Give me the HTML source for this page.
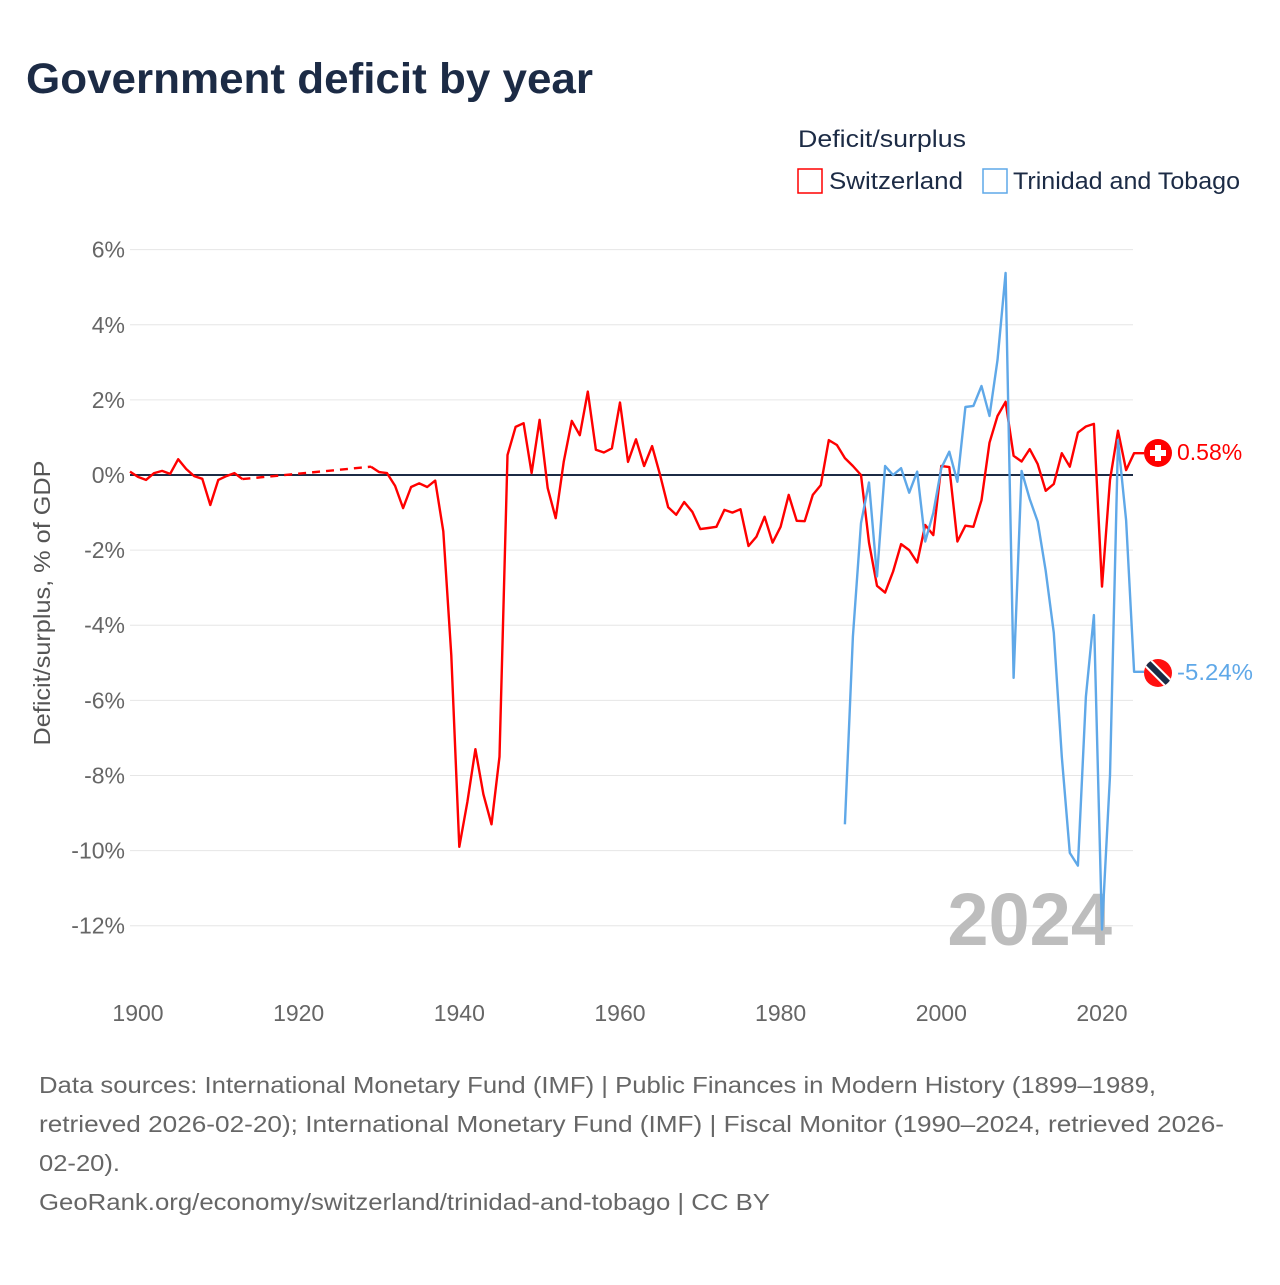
<!DOCTYPE html>
<html><head><meta charset="utf-8"><style>
body{margin:0;background:#fff;font-family:"Liberation Sans",sans-serif;}
svg text{font-family:"Liberation Sans",sans-serif;}
</style></head><body>
<svg width="1280" height="1280" viewBox="0 0 1280 1280">
<text x="26" y="93" font-size="43" font-weight="bold" fill="#1c2b45" textLength="567" lengthAdjust="spacingAndGlyphs">Government deficit by year</text>
<g>
<text x="798" y="147" font-size="24" fill="#1c2b45" textLength="168" lengthAdjust="spacingAndGlyphs">Deficit/surplus</text>
<rect x="798" y="169" width="24" height="24" fill="none" stroke="#ff0000" stroke-width="1.5"/>
<text x="829" y="189" font-size="24" fill="#1c2b45" textLength="134" lengthAdjust="spacingAndGlyphs">Switzerland</text>
<rect x="983" y="169" width="24" height="24" fill="none" stroke="#5fa8e8" stroke-width="1.5"/>
<text x="1013" y="189" font-size="24" fill="#1c2b45" textLength="227" lengthAdjust="spacingAndGlyphs">Trinidad and Tobago</text>
</g>
<g id="grid"></g>
<g id="yticks"></g>
<g id="xticks"></g>
<text transform="translate(50,603) rotate(-90)" text-anchor="middle" font-size="23" fill="#555" textLength="285" lengthAdjust="spacingAndGlyphs">Deficit/surplus, % of GDP</text>
<text x="1112" y="945" text-anchor="end" font-size="74" font-weight="bold" fill="#bdbdbd">2024</text>
<line x1="130" x2="1133" y1="475" y2="475" stroke="#1c2b45" stroke-width="2"/>
<g id="series"></g>
<g>
<circle cx="1158" cy="453" r="14" fill="#ff0000"/>
<rect x="1155" y="445" width="6" height="16" fill="#fff"/><rect x="1150" y="450" width="16" height="6" fill="#fff"/>
</g>
<text x="1177" y="460" font-size="23" fill="#ff0000">0.58%</text>
<g>
<clipPath id="cc"><circle cx="1158" cy="673" r="14"/></clipPath>
<circle cx="1158" cy="673" r="14" fill="#ff1010"/>
<line x1="1146" y1="661" x2="1170" y2="685" stroke="#fff" stroke-width="10" clip-path="url(#cc)"/>
<line x1="1146" y1="661" x2="1170" y2="685" stroke="#1c2b45" stroke-width="6" clip-path="url(#cc)"/>
</g>
<text x="1177" y="680" font-size="23" fill="#5fa8e8" textLength="76" lengthAdjust="spacingAndGlyphs">-5.24%</text>
<g font-size="23" fill="#666">
<text x="39" y="1093" textLength="1117" lengthAdjust="spacingAndGlyphs">Data sources: International Monetary Fund (IMF) | Public Finances in Modern History (1899–1989,</text>
<text x="39" y="1132" textLength="1185" lengthAdjust="spacingAndGlyphs">retrieved 2026-02-20); International Monetary Fund (IMF) | Fiscal Monitor (1990–2024, retrieved 2026-</text>
<text x="39" y="1171" textLength="81" lengthAdjust="spacingAndGlyphs">02-20).</text>
<text x="39" y="1210" textLength="731" lengthAdjust="spacingAndGlyphs">GeoRank.org/economy/switzerland/trinidad-and-tobago | CC BY</text>
</g>
</svg>
<script>
const yTicks=[6,4,2,0,-2,-4,-6,-8,-10,-12];
const xTicks=[1900,1920,1940,1960,1980,2000,2020];
const chYears1=[1899,1900,1901,1902,1903,1904,1905,1906,1907,1908,1909,1910,1911,1912,1913];
const chVals1=[0.09,-0.05,-0.13,0.05,0.11,0.03,0.42,0.16,-0.03,-0.1,-0.8,-0.13,-0.03,0.05,-0.11];
const chGapYears=[1913,1929];
const chGapVals=[-0.11,0.22];
const chYears2=[];for(let y=1929;y<=2024;y++)chYears2.push(y);
const chVals2=[0.22,0.08,0.05,-0.29,-0.88,-0.32,-0.22,-0.32,-0.15,-1.5,-4.8,-9.9,-8.7,-7.3,-8.5,-9.3,-7.5,0.53,1.28,1.38,0.05,1.47,-0.35,-1.15,0.35,1.44,1.06,2.22,0.67,0.6,0.71,1.93,0.35,0.95,0.24,0.77,0,-0.86,-1.06,-0.72,-0.98,-1.44,-1.41,-1.38,-0.93,-1.0,-0.91,-1.89,-1.64,-1.11,-1.8,-1.38,-0.53,-1.22,-1.23,-0.53,-0.27,0.93,0.8,0.45,0.24,0,-1.8,-2.95,-3.13,-2.57,-1.84,-2.0,-2.33,-1.33,-1.6,0.24,0.21,-1.77,-1.35,-1.38,-0.67,0.86,1.57,1.95,0.51,0.36,0.69,0.29,-0.42,-0.24,0.58,0.22,1.13,1.29,1.36,-2.97,-0.13,1.18,0.13,0.58];
const ttYears=[];for(let y=1988;y<=2024;y++)ttYears.push(y);
const ttVals=[-9.3,-4.3,-1.28,-0.2,-2.7,0.24,0,0.18,-0.47,0.09,-1.77,-1.01,0.18,0.62,-0.18,1.81,1.84,2.37,1.57,3.06,5.38,-5.4,0.11,-0.64,-1.24,-2.55,-4.2,-7.5,-10.06,-10.4,-5.9,-3.73,-12.1,-8.0,0.93,-1.2,-5.24];
const X=y=>138+(y-1900)*8.033;
const Y=v=>475-v*37.56;
const NS='http://www.w3.org/2000/svg';
const grid=document.getElementById('grid'),yt=document.getElementById('yticks'),xt=document.getElementById('xticks'),ser=document.getElementById('series');
yTicks.forEach(t=>{
 const l=document.createElementNS(NS,'line');
 l.setAttribute('x1',130);l.setAttribute('x2',1133);l.setAttribute('y1',Y(t));l.setAttribute('y2',Y(t));
 l.setAttribute('stroke','#e6e6e6');l.setAttribute('stroke-width',1);
 
 
 grid.appendChild(l);
 const tx=document.createElementNS(NS,'text');
 tx.setAttribute('x',125);tx.setAttribute('y',Y(t)+8);tx.setAttribute('text-anchor','end');
 tx.setAttribute('font-size',23);tx.setAttribute('fill','#666');tx.textContent=t+'%';
 
 
 yt.appendChild(tx);
});
xTicks.forEach(t=>{
 const tx=document.createElementNS(NS,'text');
 tx.setAttribute('x',X(t));tx.setAttribute('y',1021);tx.setAttribute('text-anchor','middle');
 tx.setAttribute('font-size',23);tx.setAttribute('fill','#666');tx.textContent=t;
 
 
 xt.appendChild(tx);
});
function line(ys,vs,color,name,dash,ext){
 let pts=ys.map((y,i)=>X(y).toFixed(1)+','+Y(vs[i]).toFixed(1));
 if(ext)pts.push(ext+','+Y(vs[vs.length-1]).toFixed(1));
 const p=document.createElementNS(NS,'polyline');
 p.setAttribute('points',pts.join(' '));p.setAttribute('fill','none');
 p.setAttribute('stroke',color);p.setAttribute('stroke-width',2.4);p.setAttribute('stroke-linejoin','round');
 if(dash)p.setAttribute('stroke-dasharray','8,6');
 
 
 ser.appendChild(p);
}
line(chYears1,chVals1,'#ff0000','switzerland-line-early');
line(chGapYears,chGapVals,'#ff0000','switzerland-gap-line',true);
line(chYears2,chVals2,'#ff0000','switzerland-line',false,1144);
line(ttYears,ttVals,'#5fa8e8','trinidad-line',false,1144);
</script>
</body></html>
